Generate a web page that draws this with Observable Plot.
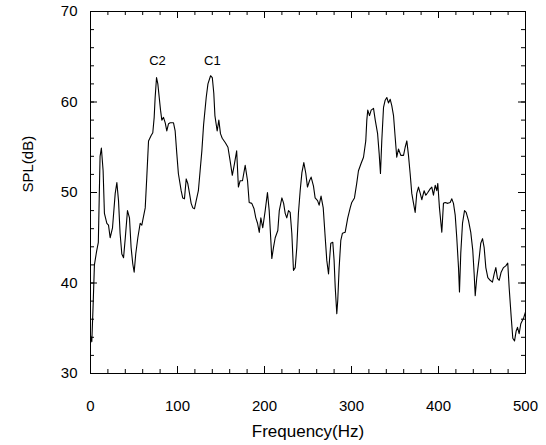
<!DOCTYPE html>
<html>
<head>
<meta charset="utf-8">
<script src="https://cdn.jsdelivr.net/npm/d3@7"></script>
<script src="https://cdn.jsdelivr.net/npm/@observablehq/plot@0.6"></script>
<style>
  html, body { margin: 0; padding: 0; background: #fff; }
  #chart svg { display: block; }
</style>
</head>
<body>
<div id="chart"></div>
<script>
// Frequency (Hz) and SPL (dB)
const freq = [0,1.5,3,4.5,7,9,11,12.5,14.5,16,18.8,20.7,22.6,25.3,28.4,30.3,32.2,34,36,38,40,42.5,44.8,46.7,48.6,50.2,52,54.4,57.1,59,60,62.9,64.7,66.7,69.7,71.6,73.2,74.3,75.9,77.4,79,80.5,82,83.9,85.9,87.7,89.7,91.6,95.4,97.3,99.2,101,104.2,106,108,110,111.8,113.8,115.7,117.6,119.5,121.5,124,126,128,130,133,135,138,140,141.7,143,145.6,147.5,149.4,151.4,155,158,160.5,163,165.5,168,170,172,174.7,177.8,180.5,182.4,185.4,188,190,192,194,195.8,198,200.8,203.4,205.4,207.3,208.4,210.3,212.3,215.3,217,220,222,223.8,225.6,227.6,229.5,231.4,233.3,235.3,237.1,239,241,243,245.2,247.5,249.4,251.7,253.6,256.3,258.2,261,262.8,265,267.5,269.8,271.6,273.6,274.7,276.2,278.5,280,281.3,283.1,284.2,285.8,287.7,289.6,292.7,295.7,298.5,300.3,303.4,306,308,311,313.8,316.4,317.6,318.7,320.7,322.6,325.3,327.3,330,331.8,333.3,334.8,336.8,338.7,340.6,342.5,344.5,346.3,348.3,350.2,352,354,356.7,359.8,361.7,363.6,365.5,367.4,369.3,371.3,373.2,375,377,379,380.8,383.5,385.4,387.7,390.4,392.3,394.2,396.2,398,399.2,401.1,403.8,405.7,407.7,410.7,413.4,415.3,417.2,419.2,421,423,424.1,425.6,427.6,429.9,431.8,434.5,437.1,439.4,441,442.2,444,446.8,448.6,450.6,452.5,454.4,456.7,459.4,462,464,465.9,467.8,469.8,472,474.7,477.3,479.6,481.2,483.6,485.4,487.4,489.3,490.8,492.7,494.6,497.7,500];
const spl = [34.2,33.5,37.5,42.0,43.5,44.5,54.0,54.9,52.4,47.7,46.6,46.4,45.0,46.1,49.9,51.1,49.1,45.5,43.2,42.8,45.0,48.0,47.2,43.9,42.1,41.2,43.2,45.0,46.6,46.4,46.9,48.3,51.7,55.7,56.3,56.6,58.3,60.5,62.7,62.0,60.5,59.1,58.0,58.3,57.7,56.8,57.6,57.7,57.7,56.8,54.3,52.1,50.2,49.4,49.3,51.5,51.0,49.9,48.8,48.3,48.2,49.1,50.2,52.4,54.6,57.5,60.5,62.0,62.9,62.7,61.0,58.5,56.8,58.0,56.5,56.0,55.5,55.0,53.5,51.9,53.2,54.6,50.6,51.3,51.3,53.0,51.3,48.9,48.8,48.2,47.2,46.6,45.6,47.2,46.1,48.0,50.0,48.0,44.7,42.7,43.9,45.0,45.8,48.0,49.4,48.8,47.7,47.2,48.0,47.8,45.5,41.4,41.7,43.9,47.7,50.2,52.2,53.3,52.1,50.6,51.3,51.7,50.7,49.4,49.1,48.6,49.6,48.3,45.0,42.5,41.0,42.5,44.4,44.5,42.5,39.5,36.6,38.1,41.7,44.7,45.5,45.6,47.2,48.3,48.9,49.4,51.0,52.4,53.2,53.9,55.7,58.0,59.1,58.5,59.1,59.3,58.0,56.5,54.3,52.1,55.7,59.4,60.2,60.5,59.9,60.3,59.6,58.5,56.1,53.9,54.8,54.1,54.1,55.0,55.7,54.1,52.1,49.9,48.8,47.8,49.9,50.6,49.9,49.2,50.2,49.7,50.0,50.4,50.6,49.7,50.8,50.2,51.0,48.3,45.6,48.8,48.9,48.8,48.9,49.3,48.8,47.5,45.0,41.7,39.0,43.3,46.6,48.0,47.8,46.9,45.6,43.6,41.0,38.6,40.6,42.8,44.4,44.9,43.9,41.7,40.6,40.3,40.1,41.0,41.7,40.5,40.3,41.2,41.7,41.9,42.2,39.5,36.2,33.9,33.6,34.7,35.1,34.4,35.5,36.1,36.8];

const peakLabels = ["C2", "C1"];
const peakFreq = [77, 140];
const peakSpl = [64.6, 64.6];

const xMajor = [0, 100, 200, 300, 400, 500];
const yMajor = [30, 40, 50, 60, 70];
const xMinor = d3.range(0, 501, 20);
const yMinor = d3.range(30, 71, 2);

const W = 546, H = 445;
const mL = 90, mR = 21, mT = 11, mB = 72;
const innerH = H - mT - mB;
const innerW = W - mL - mR;
const xDom = [0, 500], yDom = [30, 70];
// convert a tick length in pixels into data units along each axis
const dX = (px) => px * (xDom[1] - xDom[0]) / innerW;
const dY = (px) => px * (yDom[1] - yDom[0]) / innerH;

const data = freq.map((f, i) => ({f, s: spl[i]}));
const peaks = peakLabels.map((t, i) => ({t, f: peakFreq[i], s: peakSpl[i]}));

const tickStyle = {stroke: "#000", strokeWidth: 1};
const minorLen = 4, majorLen = 7;

const chart = Plot.plot({
  width: W, height: H,
  marginLeft: mL, marginRight: mR, marginTop: mT, marginBottom: mB,
  x: {domain: xDom},
  y: {domain: yDom},
  style: {fontFamily: "'Liberation Sans', Arial, sans-serif", fontSize: "15px", color: "#000", background: "#fff"},
  marks: [
    // inward ticks on bottom and top edges
    Plot.ruleX(xMinor, {y1: yDom[0], y2: yDom[0] + dY(minorLen), ...tickStyle}),
    Plot.ruleX(xMinor, {y1: yDom[1] - dY(minorLen), y2: yDom[1], ...tickStyle}),
    Plot.ruleX(xMajor, {y1: yDom[0], y2: yDom[0] + dY(majorLen), ...tickStyle}),
    Plot.ruleX(xMajor, {y1: yDom[1] - dY(majorLen), y2: yDom[1], ...tickStyle}),
    // inward ticks on left and right edges
    Plot.ruleY(yMinor, {x1: xDom[0], x2: xDom[0] + dX(minorLen), ...tickStyle}),
    Plot.ruleY(yMinor, {x1: xDom[1] - dX(minorLen), x2: xDom[1], ...tickStyle}),
    Plot.ruleY(yMajor, {x1: xDom[0], x2: xDom[0] + dX(majorLen), ...tickStyle}),
    Plot.ruleY(yMajor, {x1: xDom[1] - dX(majorLen), x2: xDom[1], ...tickStyle}),
    Plot.frame({stroke: "#000", strokeWidth: 1}),
    Plot.axisX({ticks: xMajor, tickSize: 0, tickPadding: 27, label: null, fontSize: 15}),
    Plot.axisY({ticks: yMajor, tickSize: 0, tickPadding: 13, label: null, fontSize: 15}),
    Plot.line(data, {x: "f", y: "s", stroke: "#000", strokeWidth: 1.1}),
    Plot.text(peaks, {x: "f", y: "s", text: "t", fontSize: 13, fill: "#000"}),
    Plot.text(["Frequency(Hz)"], {frameAnchor: "bottom", dy: 63, fontSize: 17, fill: "#000"}),
    Plot.text(["SPL(dB)"], {frameAnchor: "left", dx: -62, rotate: -90, fontSize: 15, fill: "#000"})
  ]
});
document.getElementById("chart").appendChild(chart);
</script>
</body>
</html>
